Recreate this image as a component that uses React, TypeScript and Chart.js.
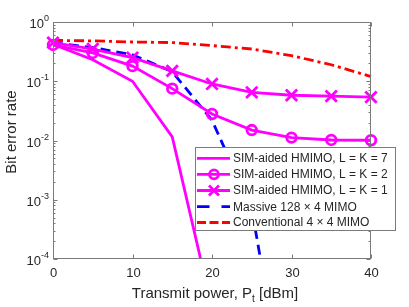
import { useEffect, useRef } from 'react';
import { Chart, registerables } from 'chart.js';

Chart.register(...registerables);

// ---- data ----
const power = [0, 5, 10, 15, 20, 25, 30, 35, 40];
const simK7 = [0.42, 0.23, 0.1, 0.0115, 1.5e-5];
const simK2 = [0.41, 0.3, 0.18, 0.075, 0.028, 0.015, 0.0112, 0.0102, 0.0101];
const simK1 = [0.45, 0.35, 0.25, 0.15, 0.09, 0.065, 0.058, 0.056, 0.054];
const massive = [0.45, 0.37, 0.28, 0.145, 0.022, 7e-4, 1e-7];
const conventional = [0.49, 0.48, 0.46, 0.45, 0.4, 0.35, 0.27, 0.19, 0.12];

const xTicks = [0, 10, 20, 30, 40];
const yDecades = [0, -1, -2, -3, -4];
const seriesLabels = [
  'SIM-aided HMIMO, L = K = 7',
  'SIM-aided HMIMO, L = K = 2',
  'SIM-aided HMIMO, L = K = 1',
  'Massive 128 \u00d7 4 MIMO',
  'Conventional 4 \u00d7 4 MIMO',
];
const xTitle = ['Transmit power, P', 't', ' [dBm]'];
const yTitle = 'Bit error rate';

const FONT = '"Liberation Sans", Arial, Helvetica, sans-serif';
const AXIS = '#7a7a7a';
const TEXT = '#262626';
const MAGENTA = '#ff00ff';
const BLUE = '#0000ff';
const RED = '#ff0000';
const LW = 2.8;

const toXY = (vals: number[]) => vals.map((v, i) => ({ x: power[i], y: v }));

const overlay = {
  id: 'matlabAxes',
  afterDraw(chart: any) {
    const { ctx, chartArea, scales } = chart;
    const { left, right, top, bottom } = chartArea;
    const xs = scales.x;
    const ys = scales.y;
    ctx.save();
    // box
    ctx.strokeStyle = AXIS;
    ctx.lineWidth = 1;
    const L = Math.round(left) + 0.5;
    const R = Math.round(right) - 0.5;
    const T = Math.round(top) + 0.5;
    const B = Math.round(bottom) - 0.5;
    ctx.strokeRect(L, T, R - L, B - T);
    // x ticks
    ctx.fillStyle = TEXT;
    ctx.font = `13px ${FONT}`;
    ctx.textAlign = 'center';
    ctx.textBaseline = 'alphabetic';
    xTicks.forEach((v) => {
      const px = Math.round(xs.getPixelForValue(v)) + 0.5;
      ctx.beginPath();
      ctx.moveTo(px, B);
      ctx.lineTo(px, B - 4);
      ctx.moveTo(px, T);
      ctx.lineTo(px, T + 4);
      ctx.stroke();
      ctx.fillText(String(v), px, bottom + 18);
    });
    // y ticks
    yDecades.forEach((d) => {
      const py = Math.round(ys.getPixelForValue(Math.pow(10, d))) + 0.5;
      ctx.beginPath();
      ctx.moveTo(L, py);
      ctx.lineTo(L + 4, py);
      ctx.moveTo(R, py);
      ctx.lineTo(R - 4, py);
      ctx.stroke();
      if (d < 0) {
        for (let m = 2; m <= 9; m++) {
          const pm = Math.round(ys.getPixelForValue(m * Math.pow(10, d))) + 0.5;
          ctx.beginPath();
          ctx.moveTo(L, pm);
          ctx.lineTo(L + 2, pm);
          ctx.moveTo(R, pm);
          ctx.lineTo(R - 2, pm);
          ctx.stroke();
        }
      }
      const exp = String(d);
      ctx.textAlign = 'left';
      ctx.font = `9px ${FONT}`;
      const ew = ctx.measureText(exp).width;
      ctx.font = `13px ${FONT}`;
      const bw = ctx.measureText('10').width;
      const rx = left - 4;
      ctx.fillText('10', rx - ew - bw, py + 5);
      ctx.font = `9px ${FONT}`;
      ctx.fillText(exp, rx - ew, py - 2);
    });
    // x title
    ctx.textAlign = 'left';
    ctx.font = `15px ${FONT}`;
    const w1 = ctx.measureText(xTitle[0]).width;
    const w3 = ctx.measureText(xTitle[2]).width;
    ctx.font = `10px ${FONT}`;
    const w2 = ctx.measureText(xTitle[1]).width;
    const total = w1 + w2 + w3;
    const cx = (left + right) / 2 + 3;
    let sx = cx - total / 2;
    const by = 298;
    ctx.font = `15px ${FONT}`;
    ctx.fillText(xTitle[0], sx, by);
    sx += w1;
    ctx.font = `10px ${FONT}`;
    ctx.fillText(xTitle[1], sx, by + 4);
    sx += w2;
    ctx.font = `15px ${FONT}`;
    ctx.fillText(xTitle[2], sx, by);
    // y title
    ctx.save();
    ctx.translate(12, 132);
    ctx.rotate(-Math.PI / 2);
    ctx.textAlign = 'center';
    ctx.textBaseline = 'middle';
    ctx.fillText(yTitle, 0, 0);
    ctx.restore();

    // legend
    const lx = 195.5, ly = 147.5, lw = 200, lh = 83;
    ctx.fillStyle = '#ffffff';
    ctx.fillRect(lx, ly, lw, lh);
    ctx.strokeStyle = AXIS;
    ctx.lineWidth = 1;
    ctx.strokeRect(lx, ly, lw, lh);
    const rows = [158.3, 174.3, 190.5, 206.7, 222.5];
    const datasets = chart.data.datasets;
    rows.forEach((ry, i) => {
      const ds = datasets[i];
      ctx.save();
      ctx.strokeStyle = ds.borderColor;
      ctx.lineWidth = LW;
      ctx.setLineDash(i === 3 ? [12.5, 12] : i === 4 ? [9, 3.5] : []);
      ctx.beginPath();
      ctx.moveTo(197, ry);
      ctx.lineTo(230, ry);
      ctx.stroke();
      ctx.setLineDash([]);
      const mx = 214;
      if (i === 1) {
        ctx.beginPath();
        ctx.arc(mx, ry, 4.5, 0, Math.PI * 2);
        ctx.stroke();
      } else if (i === 2) {
        const r = 5;
        ctx.beginPath();
        ctx.moveTo(mx - r, ry - r);
        ctx.lineTo(mx + r, ry + r);
        ctx.moveTo(mx - r, ry + r);
        ctx.lineTo(mx + r, ry - r);
        ctx.stroke();
      }
      ctx.restore();
      ctx.fillStyle = TEXT;
      ctx.font = `12px ${FONT}`;
      ctx.textAlign = 'left';
      ctx.textBaseline = 'middle';
      ctx.fillText(seriesLabels[i], 233, ry + 0.5);
    });
    ctx.restore();
  },
};

export default function App() {
  const ref = useRef<HTMLCanvasElement | null>(null);
  useEffect(() => {
    if (!ref.current) return;
    const chart = new Chart(ref.current, {
      type: 'line',
      data: {
        datasets: [
          {
            label: seriesLabels[0],
            data: toXY(simK7),
            borderColor: MAGENTA,
            borderWidth: LW,
            pointRadius: 0,
          },
          {
            label: seriesLabels[1],
            data: toXY(simK2),
            borderColor: MAGENTA,
            borderWidth: LW,
            pointStyle: 'circle',
            pointRadius: 4.8,
            pointBorderWidth: LW,
            pointBorderColor: MAGENTA,
            pointBackgroundColor: 'rgba(0,0,0,0)',
            clip: false,
          },
          {
            label: seriesLabels[2],
            data: toXY(simK1),
            borderColor: MAGENTA,
            borderWidth: LW,
            pointStyle: 'crossRot',
            pointRadius: 8,
            pointBorderWidth: LW,
            pointBorderColor: MAGENTA,
            clip: false,
          },
          {
            label: seriesLabels[3],
            data: toXY(massive),
            borderColor: BLUE,
            borderWidth: LW,
            borderDash: [10, 6],
            pointRadius: 0,
          },
          {
            label: seriesLabels[4],
            data: toXY(conventional),
            borderColor: RED,
            borderWidth: LW,
            borderDash: [10, 4, 3, 4],
            pointRadius: 0,
            clip: false,
          },
        ] as any,
      },
      options: {
        animation: false,
        responsive: false,
        layout: { padding: { left: 53, top: 22, right: 38, bottom: 48 } },
        scales: {
          x: { type: 'linear', min: 0, max: 40, display: false },
          y: { type: 'logarithmic', min: 1e-4, max: 1, display: false },
        },
        plugins: { legend: { display: false }, tooltip: { enabled: false } },
        elements: { line: { tension: 0 } },
      },
      plugins: [overlay],
    });
    return () => chart.destroy();
  }, []);
  return (
    <div style={{ position: 'fixed', left: 0, top: 0, width: 409, height: 307, background: '#fff' }}>
      <canvas ref={ref} width={409} height={307} style={{ display: 'block', width: 409, height: 307 }} />
    </div>
  );
}
